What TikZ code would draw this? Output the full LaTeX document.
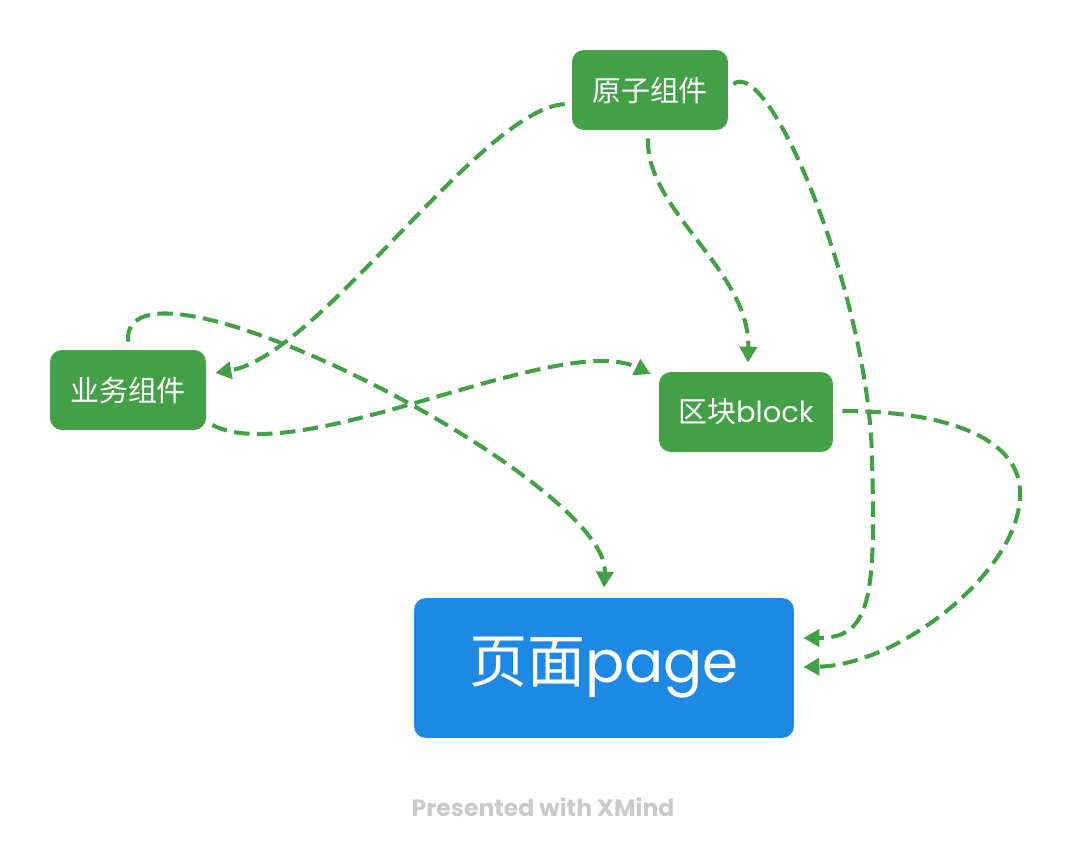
\documentclass[tikz,border=0pt]{standalone}
\usepackage{fontspec}
\setmainfont{Poppins}
\newfontfamily\cjk{Noto Sans CJK SC}
\usetikzlibrary{arrows.meta,calc}
\definecolor{xgreen}{HTML}{43A047}
\definecolor{xblue}{HTML}{1E88E5}
\definecolor{xgray}{HTML}{CACACA}
\tikzset{
	topic/.style={fill=xgreen, text=white, rounded corners=0.24cm, minimum width=3.12cm, minimum height=1.6cm, inner sep=0pt, font=\fontsize{16.5}{18}\selectfont},
	link/.style={xgreen, line width=2.3pt, dash pattern=on 0.31cm off 0.15cm, -{Triangle[length=0.32cm,width=0.34cm]}},
}
\begin{document}
\begin{tikzpicture}[x=0.02cm, y=-0.02cm]
		\useasboundingbox (0,0) rectangle (1088,858);
		
		\node[topic] (atom) at (650,90) {\cjk 原子组件};
		\node[topic] (biz) at (128,390) {\cjk 业务组件};
		\node[topic, minimum width=3.48cm] (block) at (746,412) {{\cjk 区块}block};
		\node[topic, fill=xblue, minimum width=7.6cm, minimum height=2.8cm, font=\fontsize{33}{36}\selectfont] (page) at (604,668) {{\cjk 页面}page};
		
		\node[text=xgray, font=\fontsize{13.4}{15}\selectfont\bfseries] (credit) at (543,807) {Presented with XMind};
		
		\draw[link] ($(atom.west)+(-7,14)$) .. controls (480,110) and (320,355) .. ($(biz.east)+(9,-17)$);
		\draw[link] ($(atom.south)+(-2,8)$) .. controls (645,210) and (750,270) .. ($(block.north)+(2,-9)$);
		\draw[link] ($(atom.east)+(5,-6)$) .. controls (770,55) and (870,300) .. (872,460)
			.. controls (876,600) and (870,638) .. ($(page.east)+(9,-30)$);
		\draw[link] ($(biz.north)+(0,-8)$) .. controls (120,230) and (610,480) .. ($(page.north)+(0,-10)$);
		\draw[link] ($(biz.east)+(6,35)$) .. controls (300,470) and (560,330) .. ($(block.west)+(-8,-38)$);
		\draw[link] ($(block.east)+(9,-1)$) .. controls (950,411) and (1022,440) .. (1020,495)
			.. controls (1020,570) and (900,665) .. ($(page.east)+(9,-1)$);
		
	\end{tikzpicture}
\end{document}
